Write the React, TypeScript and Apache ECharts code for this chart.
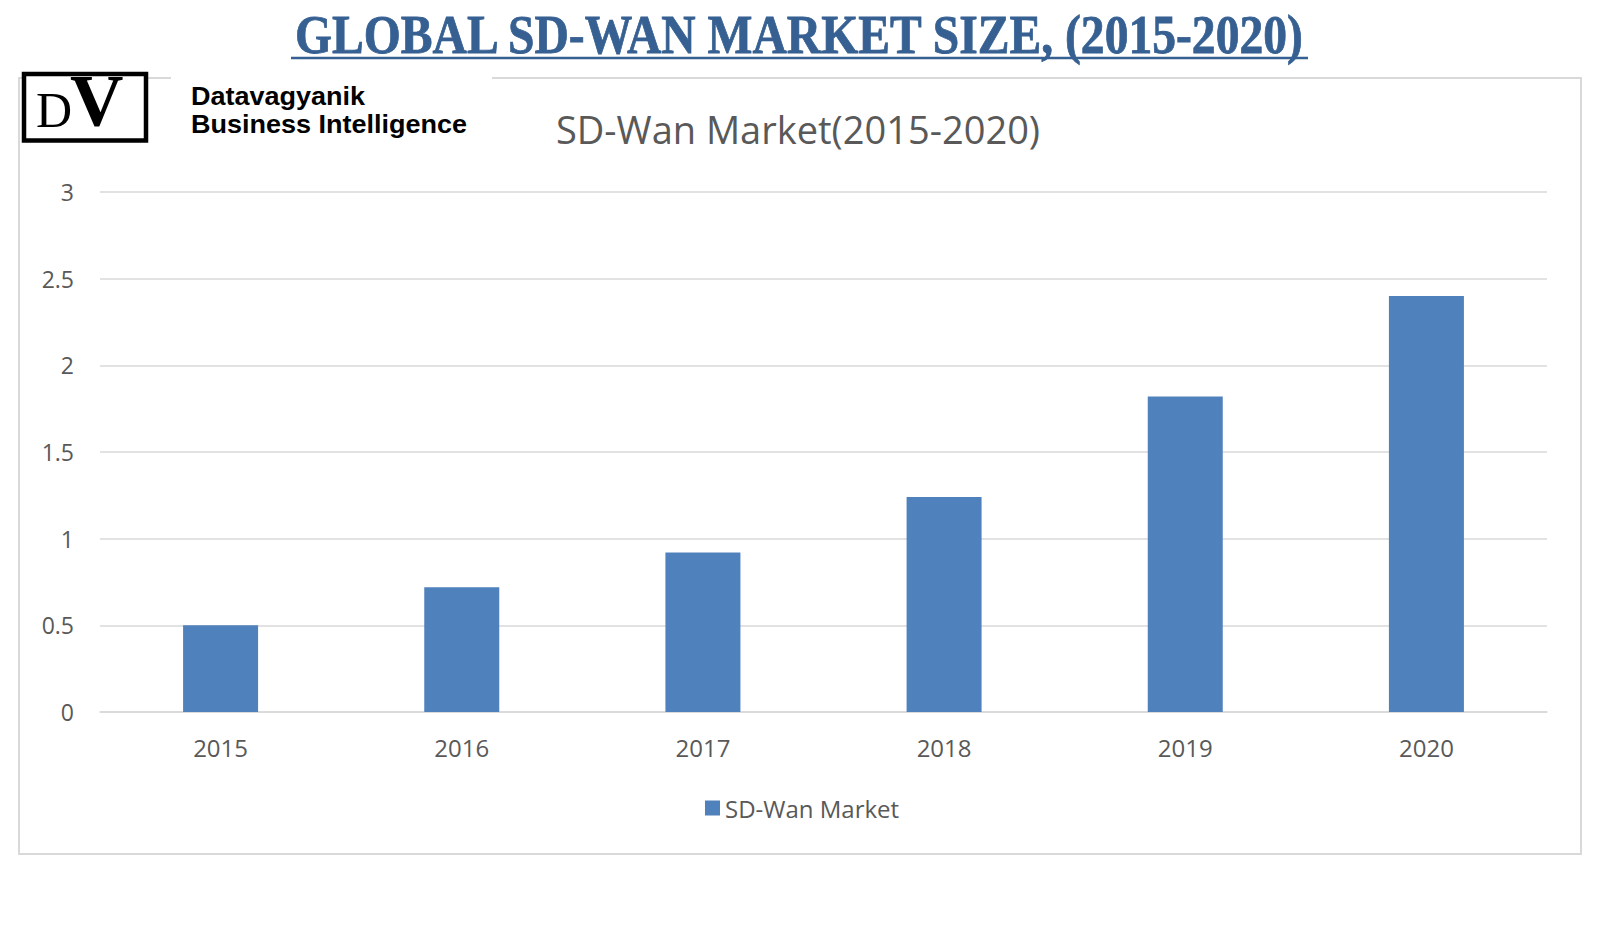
import React, { useEffect, useRef } from "react";
import * as echarts from "echarts";

const years = ["2015", "2016", "2017", "2018", "2019", "2020"];
const marketValues = [0.5, 0.72, 0.92, 1.24, 1.82, 2.4];
const seriesName = "SD-Wan Market";
const mainTitle = "GLOBAL SD-WAN MARKET SIZE, (2015-2020)";
const chartTitle = "SD-Wan Market(2015-2020)";
const logoLine1 = "Datavagyanik";
const logoLine2 = "Business Intelligence";

export default function App() {
  const ref = useRef<HTMLDivElement>(null);
  useEffect(() => {
    if (!ref.current) return;
    const chart = echarts.init(ref.current, null, { renderer: "svg" });
    const gray = "#595959";
    chart.setOption({
      animation: false,
      backgroundColor: "#ffffff",
      textStyle: { fontFamily: "Open Sans" },
      grid: { left: 100, right: 53, top: 192, bottom: 238, containLabel: false },
      xAxis: {
        type: "category",
        data: years,
        axisLine: { lineStyle: { color: "#d9d9d9", width: 1.5 } },
        axisTick: { show: false },
        axisLabel: { color: gray, fontSize: 24, margin: 23, fontFamily: "Open Sans" },
      },
      yAxis: {
        type: "value",
        min: 0,
        max: 3,
        interval: 0.5,
        axisLine: { show: false },
        axisTick: { show: false },
        splitLine: { lineStyle: { color: "#d9d9d9", width: 1.5 } },
        axisLabel: { color: gray, fontSize: 23, margin: 26, fontFamily: "Open Sans" },
      },
      legend: {
        data: [seriesName],
        left: 705,
        top: 796,
        padding: 0,
        itemWidth: 15,
        itemHeight: 15,
        icon: "rect",
        textStyle: { color: gray, fontSize: 24, fontFamily: "Open Sans" },
      },
      series: [
        {
          type: "bar",
          name: seriesName,
          data: marketValues,
          barWidth: 75,
          itemStyle: { color: "#4F81BD" },
        },
      ],
      graphic: [
        {
          type: "rect",
          z: -10,
          shape: { x: 19, y: 78, width: 1562, height: 776 },
          style: { fill: "none", stroke: "#d9d9d9", lineWidth: 2 },
        },
        {
          type: "rect",
          z: 5,
          shape: { x: 171, y: 72, width: 321, height: 12 },
          style: { fill: "#ffffff" },
        },
        {
          type: "rect",
          z: 10,
          shape: { x: 24, y: 74, width: 122, height: 66.5 },
          style: { fill: "#ffffff", stroke: "#000000", lineWidth: 4.5 },
        },
        {
          type: "text",
          z: 11,
          x: 36,
          y: 109.5,
          style: {
            text: "D",
            fill: "#000",
            font: "normal 50px 'Liberation Serif'",
            align: "left",
            verticalAlign: "middle",
          },
        },
        {
          type: "text",
          z: 11,
          x: 70,
          y: 101,
          style: {
            text: "V",
            fill: "#000",
            font: "bold 74px 'Liberation Serif'",
            align: "left",
            verticalAlign: "middle",
          },
        },
        {
          type: "text",
          z: 11,
          x: 191,
          y: 96,
          scaleX: 1.08,
          style: {
            text: logoLine1,
            fill: "#000",
            font: "bold 25px 'Liberation Sans'",
            align: "left",
            verticalAlign: "middle",
          },
        },
        {
          type: "text",
          z: 11,
          x: 191,
          y: 124,
          scaleX: 1.08,
          style: {
            text: logoLine2,
            fill: "#000",
            font: "bold 25px 'Liberation Sans'",
            align: "left",
            verticalAlign: "middle",
          },
        },
        {
          type: "text",
          z: 11,
          x: 799,
          y: 34,
          scaleX: 0.85,
          style: {
            text: mainTitle,
            fill: "#366092",
            font: "bold 56px 'Liberation Serif'",
            align: "center",
            verticalAlign: "middle",
            stroke: "#366092",
            lineWidth: 0.8,
          },
        },
        {
          type: "line",
          z: 11,
          shape: { x1: 291, y1: 58, x2: 1308, y2: 58 },
          style: { stroke: "#366092", lineWidth: 2.5 },
        },
        {
          type: "text",
          z: 11,
          x: 798,
          y: 129,
          style: {
            text: chartTitle,
            fill: gray,
            font: "normal 38px 'Open Sans'",
            align: "center",
            verticalAlign: "middle",
          },
        },
      ],
    });
    return () => chart.dispose();
  }, []);
  return (
    <div
      ref={ref}
      style={{ position: "absolute", left: 0, top: 0, width: 1600, height: 950 }}
    />
  );
}
